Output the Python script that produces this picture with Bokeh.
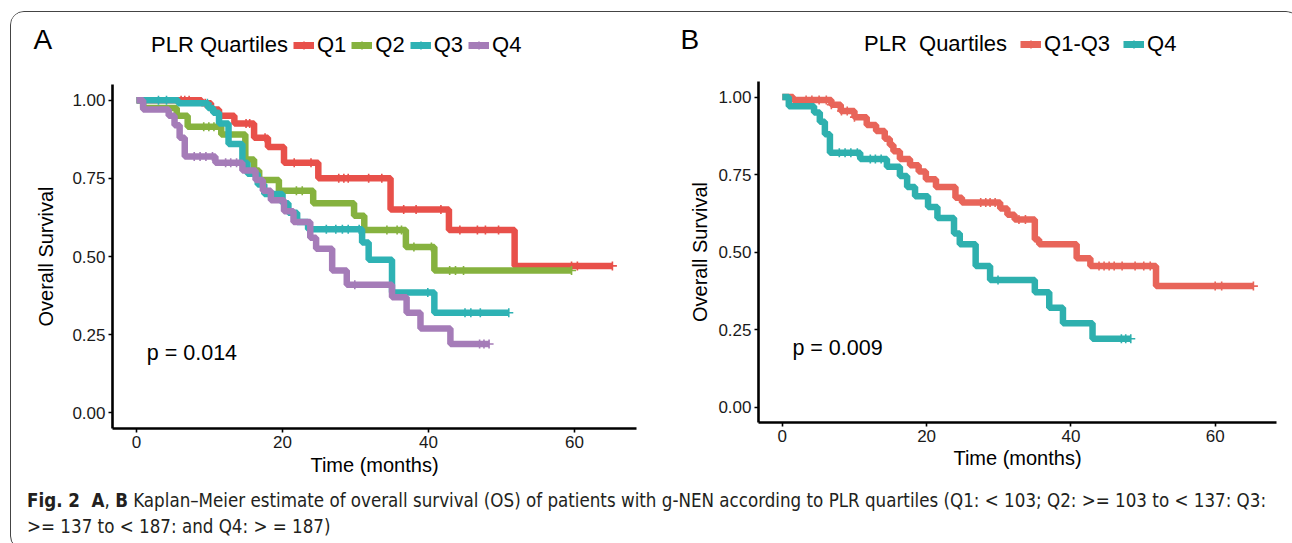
import numpy as np
from bokeh.plotting import figure
from bokeh.models import (Range1d, FixedTicker, NumeralTickFormatter, Legend,
                          LegendItem, Label, Div)
from bokeh.layouts import row, column
from bokeh.embed import file_html
from bokeh.resources import INLINE

# ---------------- data ----------------
# Panel A : PLR quartiles
q1_t = [0, 8.9, 10.2, 11.3, 13.4, 16.1, 18.0, 20.2, 24.9, 34.8, 42.8, 51.8]
q1_s = [1.0, 0.99, 0.97, 0.95, 0.925, 0.88, 0.85, 0.80, 0.75, 0.65, 0.585, 0.47]
q1_end = 65.2
q1_cens = [6.1, 6.6, 7.2, 9.4, 15.0, 15.5, 17.6, 21.6, 23.9, 27.7, 28.4, 29.0,
           31.8, 33.6, 36.6, 38.3, 41.7, 44.3, 46.7, 47.8, 49.6, 59.6, 60.4, 65.2]

q2_t = [0, 0.9, 5.5, 7.0, 11.6, 14.9, 16.1, 16.8, 19.5, 24.2, 29.8, 31.2, 36.9, 40.8]
q2_s = [1.0, 0.975, 0.95, 0.915, 0.89, 0.81, 0.775, 0.745, 0.71, 0.67, 0.63, 0.585, 0.53, 0.455]
q2_end = 59.6
q2_cens = [9.2, 9.9, 10.6, 21.9, 22.7, 34.3, 35.7, 36.3, 38.0, 40.4, 42.9, 43.7, 44.8, 59.6]

q3_t = [0, 5.7, 9.8, 10.5, 11.3, 12.6, 14.5, 15.2, 16.6, 17.5, 20.0, 20.8, 22.0, 23.5,
        30.9, 31.8, 35.0, 40.8]
q3_s = [1.0, 0.99, 0.975, 0.96, 0.925, 0.86, 0.80, 0.765, 0.73, 0.70, 0.67, 0.64, 0.61, 0.587,
        0.545, 0.49, 0.385, 0.32]
q3_end = 51.0
q3_cens = [3.0, 4.1, 9.7, 26.0, 27.3, 28.2, 29.0, 30.5, 39.9, 45.0, 45.8, 47.1, 51.0]

q4_t = [0, 0.9, 4.4, 5.2, 5.9, 6.6, 10.8, 14.5, 16.3, 17.3, 18.4, 20.2, 21.5, 23.8, 24.6,
        26.8, 28.8, 35.0, 37.0, 38.9, 43.0]
q4_s = [1.0, 0.97, 0.95, 0.92, 0.88, 0.82, 0.80, 0.775, 0.745, 0.71, 0.68, 0.645, 0.61, 0.56,
        0.525, 0.455, 0.41, 0.37, 0.32, 0.27, 0.22]
q4_end = 48.3
q4_cens = [7.9, 8.7, 9.5, 10.4, 12.2, 12.9, 13.7, 29.9, 47.0, 47.6, 48.3]

# Panel B : Q1-Q3 combined vs Q4
q13_t = [0, 1.5, 6.8, 8.1, 10.0, 11.7, 13.0, 14.2, 14.9, 15.4, 16.3, 17.7, 18.9, 19.9, 21.3,
         24.0, 24.9, 30.2, 31.2, 32.2, 35.0, 35.6, 40.8, 42.7, 51.8]
q13_s = [1.0, 0.99, 0.975, 0.955, 0.935, 0.91, 0.89, 0.865, 0.845, 0.825, 0.80, 0.78, 0.76,
         0.735, 0.71, 0.675, 0.66, 0.64, 0.62, 0.605, 0.54, 0.525, 0.48, 0.455, 0.39]
q13_end = 65.3
q13_cens = [3.3, 4.1, 5.1, 6.1, 6.8, 8.2, 9.0, 10.0, 27.5, 28.2, 28.8, 29.5, 32.8, 33.7,
            43.9, 44.6, 45.3, 46.0, 47.1, 48.9, 50.1, 51.0, 60.0, 60.9, 65.3]

x_ticks = [0, 20, 40, 60]
y_ticks = [0.0, 0.25, 0.50, 0.75, 1.0]

legend_title_a = "PLR Quartiles"
legend_title_b = "PLR  Quartiles"
labels_a = ["Q1", "Q2", "Q3", "Q4"]
labels_b = ["Q1-Q3", "Q4"]
colors_a = ["#E8504A", "#86B23F", "#2EB2B4", "#A57CB8"]
colors_b = ["#E8655A", "#2EB0AE"]
p_text_a = "p = 0.014"
p_text_b = "p = 0.009"

FONT = "Liberation Sans"
TXT = "#1a1a1a"
WA, WB = 640, 638
HEAD_H = 60


def cens_y(t, s, c):
    idx = np.searchsorted(np.asarray(t), np.asarray(c), side="right") - 1
    return list(np.asarray(s)[idx])


# ---------------- header: panel letters + legends ----------------
head = figure(frame_width=WA + WB, frame_height=HEAD_H, min_border=0,
              x_range=Range1d(0, WA + WB), y_range=Range1d(0, HEAD_H),
              x_axis_type=None, y_axis_type=None,
              output_backend="svg", toolbar_location=None, tools="")
head.grid.visible = False
head.outline_line_color = None


def add_legend(labels, colors, title_text, loc, spacing):
    proxy0 = head.line(x=[0], y=[0], line_alpha=0, visible=False)
    items = [LegendItem(label=title_text, renderers=[proxy0])]
    for lab, col in zip(labels, colors):
        lg_line = head.line(x=[0], y=[0], line_color=col, line_width=7, visible=False)
        lg_cross = head.scatter(x=[0], y=[0], marker="cross", size=10, line_color=col,
                                line_width=1.6, visible=False)
        items.append(LegendItem(label=lab, renderers=[lg_line, lg_cross]))
    leg = Legend(items=items, orientation="horizontal", location=loc,
                 border_line_alpha=0, background_fill_alpha=0, padding=0, margin=0,
                 inactive_fill_alpha=0,
                 spacing=spacing, glyph_width=21, glyph_height=20, label_standoff=3,
                 label_text_font=FONT, label_text_font_size="22px",
                 label_text_color="black", label_height=20)
    head.add_layout(leg)


add_legend(labels_a, colors_a, legend_title_a, (116, 14), 5)
add_legend(labels_b, colors_b, legend_title_b, (WA + 189, 15), 13)
head.add_layout(Label(x=22, y=18, text="A", text_font=FONT, text_font_size="28px",
                      text_color="black"))
head.add_layout(Label(x=WA + 29, y=18, text="B", text_font=FONT, text_font_size="28px",
                      text_color="black"))


def make_panel(series, colors, p_text, width, frame_w, frame_h,
               mb_left, mb_top, mb_bottom, ylab_standoff, xlab_standoff):
    p = figure(frame_width=frame_w, frame_height=frame_h,
               min_border_left=mb_left, min_border_top=mb_top,
               min_border_bottom=mb_bottom, min_border_right=width - mb_left - frame_w,
               x_range=Range1d(-3.3, 68.5), y_range=Range1d(-0.05, 1.05),
               output_backend="svg", toolbar_location=None, tools="")
    p.grid.visible = False
    p.outline_line_color = None

    for ax in (p.xaxis[0], p.yaxis[0]):
        ax.axis_line_width = 2.6
        ax.axis_line_color = "black"
        ax.major_tick_line_color = "black"
        ax.major_tick_line_width = 1.6
        ax.major_tick_out = 4
        ax.major_tick_in = 0
        ax.minor_tick_line_color = None
        ax.major_label_text_font = FONT
        ax.major_label_text_font_size = "17px"
        ax.major_label_text_color = TXT
        ax.axis_label_text_font = FONT
        ax.axis_label_text_font_size = "20px"
        ax.axis_label_text_font_style = "normal"
        ax.axis_label_text_color = "black"
    p.xaxis.ticker = FixedTicker(ticks=x_ticks)
    p.yaxis.ticker = FixedTicker(ticks=y_ticks)
    p.yaxis.formatter = NumeralTickFormatter(format="0.00")
    p.xaxis.axis_label = "Time (months)"
    p.yaxis.axis_label = "Overall Survival"
    p.xaxis.major_label_standoff = 3
    p.yaxis.major_label_standoff = 3
    p.xaxis.axis_label_standoff = xlab_standoff
    p.yaxis.axis_label_standoff = ylab_standoff

    for (t, s, end, cens), col in zip(series, colors):
        xs = list(t) + [end]
        ys = list(s) + [s[-1]]
        p.step(xs, ys, mode="after", line_color=col, line_width=6.5)
        p.scatter(cens, cens_y(t, s, cens), marker="cross", size=9,
                  line_color=col, line_width=1.6)

    p.add_layout(Label(x=1.4, y=0.19, text=p_text, text_font=FONT,
                       text_font_size="21.5px", text_color="black",
                       text_baseline="middle"))
    return p


pA = make_panel([(q1_t, q1_s, q1_end, q1_cens), (q2_t, q2_s, q2_end, q2_cens),
                 (q3_t, q3_s, q3_end, q3_cens), (q4_t, q4_s, q4_end, q4_cens)],
                colors_a, p_text_a, width=WA, frame_w=524, frame_h=344,
                mb_left=101, mb_top=12, mb_bottom=50, ylab_standoff=12, xlab_standoff=3)
pB = make_panel([(q13_t, q13_s, q13_end, q13_cens), (q4_t, q4_s, q4_end, q4_cens)],
                colors_b, p_text_b, width=WB, frame_w=518, frame_h=341,
                mb_left=107, mb_top=9, mb_bottom=56, ylab_standoff=4, xlab_standoff=2)

caption = Div(text=(
    "<b>Fig.&nbsp;2&nbsp;&nbsp;A</b>, <b>B</b> Kaplan–Meier estimate of overall survival (OS) of "
    "patients with g-NEN according to PLR quartiles (Q1: &lt; 103; Q2: &gt;= 103 to &lt; 137: Q3:"
    "<br>&gt;= 137 to &lt; 187: and Q4: &gt; = 187)"),
    width=WA + WB, height=61,
    styles={"font-family": "'Liberation Sans Narrow', 'DejaVu Sans Condensed', 'Liberation Sans'",
            "font-size": "18.6px", "line-height": "26px", "color": "#231F20",
            "padding-left": "11px", "padding-top": "5px", "white-space": "nowrap"})

layout = column(head, row(column(pA), column(pB)), caption,
                styles={"border": "1px solid #444", "border-radius": "14px",
                        "overflow": "hidden", "background": "white",
                        "margin-left": "10px", "margin-top": "11px"})

open("out.html", "w").write(file_html(layout, INLINE))
